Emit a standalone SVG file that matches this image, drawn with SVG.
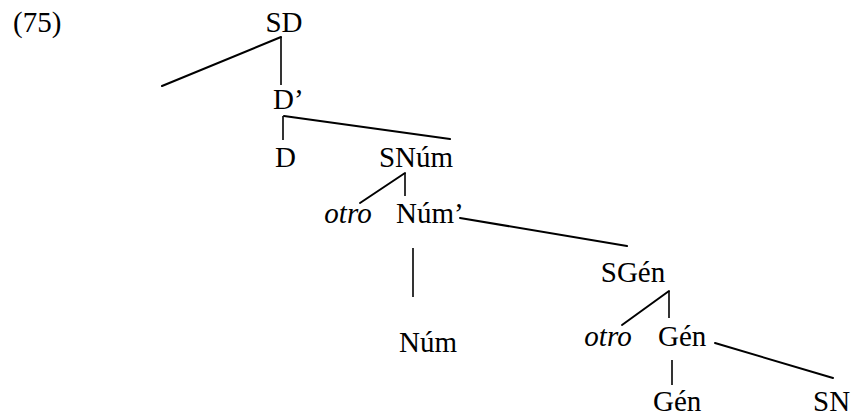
<svg xmlns="http://www.w3.org/2000/svg" width="854" height="419" viewBox="0 0 854 419">
<style>
.m{text-anchor:middle}
.i{font-style:italic}
.e{stroke:#000;stroke-width:2;fill:none;stroke-linecap:round}
.v{stroke:#000;stroke-width:1.6;fill:none}
</style>
<rect width="854" height="419" fill="#fff"/>
<g id="connectors">
<line class="e" x1="281" y1="37" x2="162" y2="86"/>
<line class="v" x1="281" y1="37" x2="281" y2="85"/>
<line class="v" x1="283" y1="116" x2="283" y2="140"/>
<line class="e" x1="284" y1="116" x2="450" y2="139"/>
<line class="e" x1="405" y1="173" x2="360" y2="203"/>
<line class="v" x1="405" y1="173" x2="405" y2="196"/>
<line class="e" x1="460" y1="218" x2="627" y2="246"/>
<line class="v" x1="413" y1="248" x2="413" y2="297"/>
<line class="e" x1="669" y1="291" x2="622" y2="325"/>
<line class="v" x1="669" y1="291" x2="669" y2="318"/>
<line class="v" x1="672" y1="360" x2="672" y2="385"/>
<line class="e" x1="715" y1="343" x2="833" y2="378"/>
</g>
<g font-family="Liberation Serif, DejaVu Serif, serif" font-size="29" fill="#000">
<g id="label75"><text x="13" y="32">(75)</text></g>
<g id="SD"><text class="m" x="284" y="32">SD</text></g>
<g id="Dbar"><text x="273" y="109">D’</text></g>
<g id="D"><text x="275" y="167">D</text></g>
<g id="SNum"><text class="m" x="416" y="167">SNúm</text></g>
<g id="otro1"><text class="m i" x="348" y="223">otro</text></g>
<g id="Numbar"><text x="396" y="223">Núm’</text></g>
<g id="Num"><text class="m" x="428" y="352">Núm</text></g>
<g id="SGen"><text class="m" x="633" y="282">SGén</text></g>
<g id="otro2"><text class="m i" x="608" y="346">otro</text></g>
<g id="Genbar"><text x="658" y="346">Gén</text></g>
<g id="Gen"><text x="653" y="411">Gén</text></g>
<g id="SN"><text x="813" y="411">SN</text></g>
</g>
</svg>
